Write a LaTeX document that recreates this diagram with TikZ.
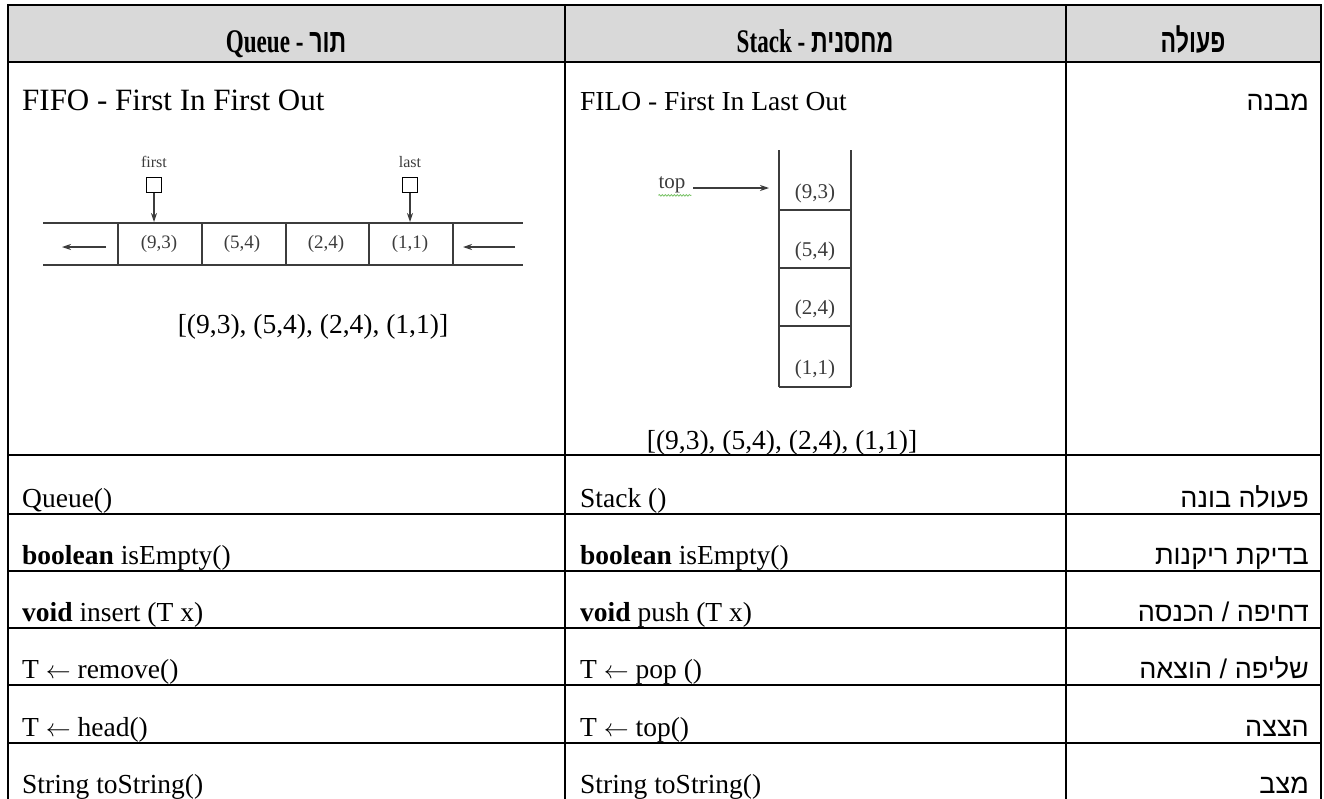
\documentclass[tikz,border=0pt]{standalone}
\usepackage{fontspec}
\usepackage{graphicx}
\setmainfont{Liberation Serif}
\newfontfamily\hebfont[Script=Hebrew]{Liberation Sans}
\usetikzlibrary{arrows.meta,decorations.pathmorphing}
\TeXXeTstate=1

\definecolor{headgray}{HTML}{D9D9D9}
\definecolor{figgray}{HTML}{3C3C3C}
\definecolor{spellgreen}{HTML}{7CC46A}

\newcommand{\heb}[1]{{\hebfont\beginR #1\endR}}
\newcommand{\hd}[1]{\scalebox{.7}[1]{\bfseries #1}}

\tikzset{
  tableline/.style={line width=2.6pt, line cap=rect},
  figline/.style={line width=1.2pt, figgray},
  cell/.style={anchor=base west, inner sep=0pt, font=\fontsize{27.5}{31}\selectfont},
  op/.style={anchor=base east, inner sep=0pt, font=\hebfont\fontsize{27}{31}\selectfont},
  head/.style={anchor=base, inner sep=0pt, font=\fontsize{33}{36}\selectfont},
  small/.style={inner sep=0pt, text=figgray, font=\fontsize{19}{21}\selectfont},
  ptrbox/.style={draw, line width=1.3pt, minimum size=15pt, inner sep=0pt},
}

\begin{document}
\begin{tikzpicture}[x=1pt, y=-1pt, >={Stealth[length=9pt, width=6pt]}]
\useasboundingbox (0,0) rectangle (1324,798);

% table
\fill[headgray] (8,5) rectangle (1321,62);
\draw[tableline] (8,5) -- (1321,5);
\draw[tableline] (8,62) -- (1321,62);
\foreach \y in {455,514,571,628,685,743}
  \draw[tableline] (8,\y) -- (1321,\y);
\foreach \x in {8,565,1066,1321}
  \draw[tableline] (\x,5) -- (\x,806);

% header
\node[head] (hqueue) at (286,52) {\hd{Queue - \heb{תור}}};
\node[head] (hstack) at (815,52) {\hd{Stack - \heb{מחסנית}}};
\node[head] (hop) at (1193,52) {\hd{\heb{פעולה}}};

% row 1
\node[cell, font=\fontsize{31}{34}\selectfont] (fifo) at (22,110) {FIFO - First In First Out};
\node[cell] (filo) at (580,110) {FILO - First In Last Out};
\node[op] (struct) at (1309,110) {\heb{מבנה}};

% queue picture
\draw[figline] (43,223) -- (523,223);
\draw[figline] (43,265) -- (523,265);
\foreach \x in {118,202,286,369,453}
  \draw[figline] (\x,223) -- (\x,265);
\node[small] (q1) at (159,244) {(9,3)};
\node[small] (q2) at (242,244) {(5,4)};
\node[small] (q3) at (326,244) {(2,4)};
\node[small] (q4) at (410,244) {(1,1)};
\coordinate (outA) at (106,247);
\coordinate (outB) at (62,247);
\coordinate (inA) at (515,247);
\coordinate (inB) at (463,247);
\draw[figline, ->] (outA) -- (outB);
\draw[figline, ->] (inA) -- (inB);
\node[small, font=\fontsize{16}{18}\selectfont] (first) at (154,162) {first};
\node[ptrbox] (firstbox) at (154,185) {};
\coordinate (firstend) at (154,222);
\draw[figline, ->] (firstbox) -- (firstend);
\node[small, font=\fontsize{16}{18}\selectfont] (last) at (410,162) {last};
\node[ptrbox] (lastbox) at (410,185) {};
\coordinate (lastend) at (410,222);
\draw[figline, ->] (lastbox) -- (lastend);
\node[cell, anchor=base] (qlist) at (313,333) {[(9,3), (5,4), (2,4), (1,1)]};

% stack picture
\draw[figline] (779,150) -- (779,387);
\draw[figline] (851,150) -- (851,387);
\foreach \y in {210,268,326,387}
  \draw[figline] (779,\y) -- (851,\y);
\node[small, font=\fontsize{21}{23}\selectfont] (s1) at (815,193) {(9,3)};
\node[small, font=\fontsize{21}{23}\selectfont] (s2) at (815,251) {(5,4)};
\node[small, font=\fontsize{21}{23}\selectfont] (s3) at (815,309) {(2,4)};
\node[small, font=\fontsize{21}{23}\selectfont] (s4) at (815,369) {(1,1)};
\node[small, font=\fontsize{21}{23}\selectfont] (top) at (672,185) {top};
\draw[spellgreen, line width=.8pt, decorate, decoration={snake, amplitude=.8pt, segment length=3pt}]
  (top.south west) ++(0,2) -- ++(33,0);
\coordinate (topstart) at (693,188);
\coordinate (topend) at (769,188);
\draw[figline, ->] (topstart) -- (topend);
\node[cell, anchor=base] (slist) at (782,449) {[(9,3), (5,4), (2,4), (1,1)]};

% rows
\node[cell] (qnew) at (22,507) {Queue()};
\node[cell] (snew) at (580,507) {Stack ()};
\node[op] (onew) at (1309,507) {\heb{פעולה בונה}};

\node[cell] (qempty) at (22,564) {\textbf{boolean} isEmpty()};
\node[cell] (sempty) at (580,564) {\textbf{boolean} isEmpty()};
\node[op] (oempty) at (1309,564) {\heb{בדיקת ריקנות}};

\node[cell] (qins) at (22,621) {\textbf{void} insert (T x)};
\node[cell] (sins) at (580,621) {\textbf{void} push (T x)};
\node[op] (oins) at (1309,621) {\heb{דחיפה / הכנסה}};

\node[cell] (qrem) at (22,678) {T $\leftarrow$ remove()};
\node[cell] (srem) at (580,678) {T $\leftarrow$ pop ()};
\node[op] (orem) at (1309,678) {\heb{שליפה / הוצאה}};

\node[cell] (qhead) at (22,736) {T $\leftarrow$ head()};
\node[cell] (shead) at (580,736) {T $\leftarrow$ top()};
\node[op] (ohead) at (1309,736) {\heb{הצצה}};

\node[cell] (qstr) at (22,793) {String toString()};
\node[cell] (sstr) at (580,793) {String toString()};
\node[op] (ostr) at (1309,793) {\heb{מצב}};
\end{tikzpicture}
\end{document}
